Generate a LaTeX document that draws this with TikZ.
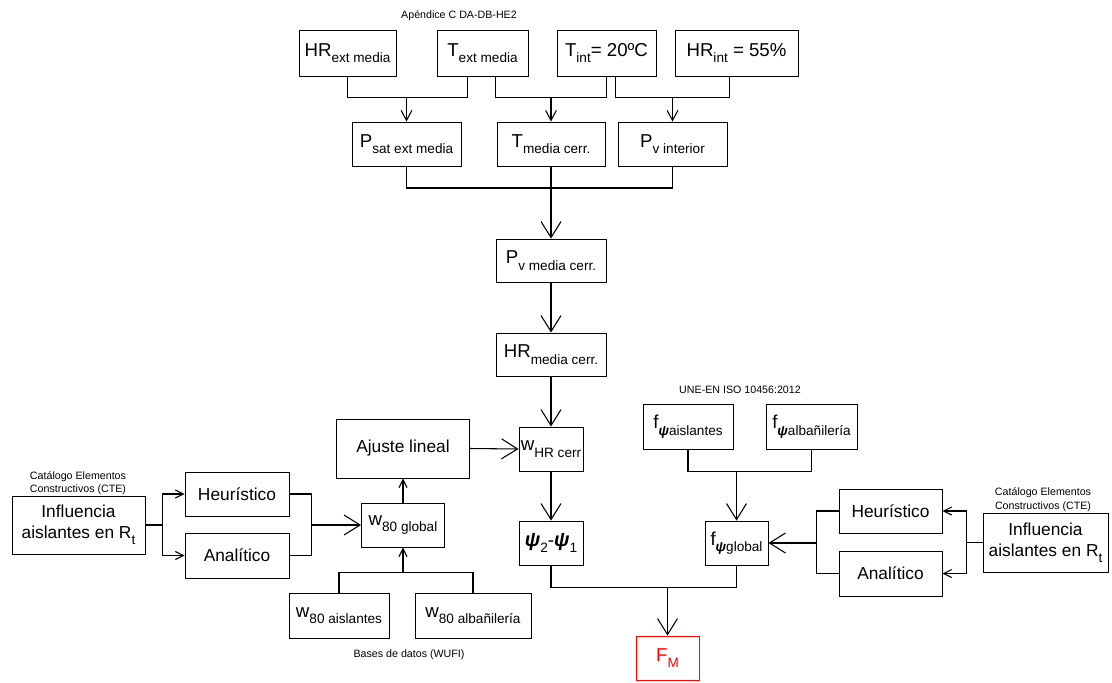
\documentclass[tikz,border=0pt]{standalone}
\usepackage{fontspec}
\setmainfont{Liberation Sans}
\usetikzlibrary{arrows.meta,calc}
\newcommand{\subTxt}[1]{\raisebox{-0.35em}{\fontsize{10.2}{11}\selectfont #1}}
\newcommand{\psiB}{\textbf{\textit{ψ}}}
\tikzstyle{box} = [draw, line width=0.7pt, inner sep=1pt, align=center, font=\fontsize{14}{16}\selectfont]
\tikzstyle{wordbox} = [box, font=\fontsize{13}{15.5}\selectfont]
\tikzstyle{note} = [font=\fontsize{8}{10}\selectfont, align=center, inner sep=0pt]
\tikzstyle{wire} = [line width=0.8pt]
\tikzstyle{arrBig} = [wire, -{Straight Barb[length=12pt,width=15pt]}]
\tikzstyle{arrMed} = [wire, -{Straight Barb[length=7.5pt,width=8pt]}]
\tikzstyle{arrSmall} = [wire, -{Straight Barb[length=6pt,width=6pt]}]
\tikzset{sz/.style 2 args={minimum width=#1*0.75pt, minimum height=#2*0.75pt}}
\begin{document}
\begin{tikzpicture}[x=0.75pt,y=-0.75pt]
  \useasboundingbox (0,0) rectangle (1112,682);
  \coordinate (busA) at (0,97);
  \coordinate (busB) at (0,188);

  % top row (DA-DB-HE2)
  \node[note] (apendice) at (459,16) {Apéndice C DA-DB-HE2};
  \node[box, sz={97}{46}] (hrext) at (347.5,53) {HR\subTxt{ext media}};
  \node[box, sz={91}{46}] (text) at (482.5,53) {T\subTxt{ext media}};
  \node[box, sz={99}{46}] (tint) at (606.5,53) {T\subTxt{int}= 20ºC};
  \node[box, sz={123}{46}] (hrint) at (736.5,53) {HR\subTxt{int} = 55\%};

  \node[box, sz={109}{44}] (psat) at (406.5,144) {P\subTxt{sat ext media}};
  \node[box, sz={108}{44}] (tmed) at (551,144) {T\subTxt{media cerr.}};
  \node[box, sz={109}{44}] (pvint) at (672.5,144) {P\subTxt{v interior}};

  \draw[wire] (hrext.south) -- ++(0,21) -| ([xshift=-11pt]text.south);
  \draw[wire] ([xshift=9.5pt]text.south) -- ++(0,21) -| (tint.south);
  \draw[wire] ([xshift=7pt]tint.south) -- ++(0,21) -| ([xshift=-5pt]hrint.south);
  \draw[arrMed] (psat.north |- busA) -- (psat.north);
  \draw[arrMed] (tmed.north |- busA) -- (tmed.north);
  \draw[arrMed] (pvint.north |- busA) -- (pvint.north);

  % central column
  \node[box, sz={110}{43}] (pvmed) at (551,260.5) {P\subTxt{v media cerr.}};
  \node[box, sz={110}{43}] (hrmed) at (551,354.5) {HR\subTxt{media cerr.}};
  \node[box, sz={64}{44}] (whr) at (551,449) {w\subTxt{HR cerr}};
  \node[box, sz={64}{44}] (psi) at (551,543) {{\fontsize{15}{16}\selectfont\psiB}\subTxt{2}-{\fontsize{15}{16}\selectfont\psiB}\subTxt{1}};
  \node[box, draw=red, text=red, sz={63}{44}] (fm) at (667.5,658) {F\subTxt{M}};

  \draw[wire] (psat.south) -- (psat.south |- busB) -| (pvint.south);
  \draw[arrBig] (tmed.south) -- (pvmed.north);
  \draw[arrBig] (pvmed.south) -- (hrmed.north);
  \draw[arrBig] (hrmed.south) -- (whr.north);
  \draw[arrBig] (whr.south) -- (psi.north);

  % left branch (w80)
  \node[wordbox, sz={133}{59}] (ajuste) at (403,448.5) {Ajuste lineal};
  \node[box, sz={83}{44}] (w80g) at (403,525) {w\subTxt{80 global}};
  \node[box, sz={100}{45}] (w80a) at (339,615.5) {w\subTxt{80 aislantes}};
  \node[box, sz={116}{45}] (w80b) at (473,615.5) {w\subTxt{80 albañilería}};
  \node[note] (wufi) at (409,655) {Bases de datos (WUFI)};
  \node[wordbox, sz={104}{44}] (heurL) at (237,494) {Heurístico};
  \node[wordbox, sz={104}{45}] (analL) at (237,555.5) {Analítico};
  \node[wordbox, sz={133}{58}] (inflL) at (78.5,525) {Influencia\\aislantes en R\subTxt{t}};
  \node[note] (cteL) at (78,483) {Catálogo Elementos\\Constructivos (CTE)};

  \draw[arrBig] (ajuste.east) -- (whr.west);
  \draw[arrSmall] (w80g.north) -- (ajuste.south);
  \draw[wire] (w80a.north) -- ++(0,-20) coordinate (busE) -| (w80b.north);
  \draw[arrSmall] (w80g.south |- busE) -- (w80g.south);
  \draw[wire] (inflL.east) -- ++(17,0) coordinate (sL);
  \draw[arrSmall] (sL) |- (heurL.west);
  \draw[arrSmall] (sL) |- (analL.west);
  \draw[wire] (heurL.east) -- ++(22,0) coordinate (jL) |- (analL.east);
  \draw[arrBig] (jL |- w80g.west) -- (w80g.west);

  % right branch (f psi)
  \node[note] (une) at (740,390) {UNE-EN ISO 10456:2012};
  \node[box, sz={90}{45}] (fais) at (688,426.5) {f\subTxt{\psiB aislantes}};
  \node[box, sz={91}{45}] (falb) at (811.5,426.5) {f\subTxt{\psiB albañilería}};
  \node[box, sz={63}{44}] (fglob) at (736.5,543) {f\subTxt{\psiB global}};
  \node[wordbox, sz={103}{44}] (heurR) at (890.5,511) {Heurístico};
  \node[wordbox, sz={103}{45}] (analR) at (890.5,573.5) {Analítico};
  \node[wordbox, sz={125}{59}] (inflR) at (1045.5,542.5) {Influencia\\aislantes en R\subTxt{t}};
  \node[note] (cteR) at (1043,499.5) {Catálogo Elementos\\Constructivos (CTE)};

  \draw[wire] (fais.south) -- ++(0,22) coordinate (busC) -| (falb.south);
  \draw[arrBig] (fglob.north |- busC) -- (fglob.north);
  \draw[wire] (inflR.west) -- ++(-16,0) coordinate (sR);
  \draw[arrSmall] (sR) |- (heurR.east);
  \draw[arrSmall] (sR) |- (analR.east);
  \draw[wire] (heurR.west) -- ++(-22,0) coordinate (jR) |- (analR.west);
  \draw[arrBig] (jR |- fglob.east) -- (fglob.east);

  % to F_M
  \draw[wire] (psi.south) -- ++(0,22) coordinate (busD) -| (fglob.south);
  \draw[arrBig] (fm.north |- busD) -- (fm.north);
\end{tikzpicture}
\end{document}
